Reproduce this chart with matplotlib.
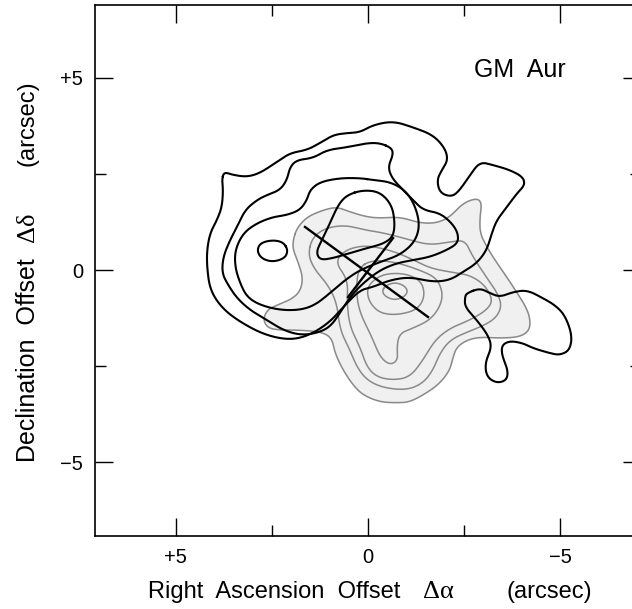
import matplotlib
matplotlib.use("Agg")
import matplotlib.pyplot as plt
import numpy as np
from matplotlib.ticker import FixedLocator

plt.rcParams['font.family'] = ['Liberation Sans', 'DejaVu Sans']

# contour outlines in arcsec (RA offset, Dec offset)
outer_black = [(3.80,2.34),(3.75,2.55),(3.51,2.47),(3.15,2.42),(2.81,2.52),(2.37,2.81),(2.03,3.04),(1.59,3.12),
               (1.25,3.30),(0.91,3.51),(0.55,3.56),(0.21,3.58),(-0.13,3.77),(-0.65,3.87),(-1.17,3.71),(-1.69,3.51),
               (-2.00,3.17),(-2.08,2.86),(-1.92,2.60),(-1.79,2.34),(-1.87,2.00),(-2.18,1.90),(-2.39,2.08),(-2.65,2.47),
               (-2.91,2.81),(-3.25,2.73),(-3.69,2.60),(-4.03,2.42),(-4.08,2.21),(-3.88,2.00),(-3.61,1.64),(-3.35,1.30),
               (-3.22,0.96),(-3.09,0.52),(-2.83,0.18),(-2.47,-0.05),(-2.13,-0.26),(-1.69,-0.31),(-1.09,-0.18),(-0.57,-0.26),
               (-0.13,-0.44),(0.21,-0.52),(0.60,-0.91),(0.99,-1.35),(1.51,-1.69),(2.03,-1.82),(2.68,-1.69),(3.33,-1.35),
               (3.80,-0.99),(4.11,-0.52),(4.19,0.08),(4.19,0.52),(4.11,0.96),(3.93,1.30),(3.80,1.64),(3.77,2.08)]
arm_black = [(-2.57,-0.60),(-2.91,-0.47),(-3.17,-0.60),(-3.43,-0.70),(-3.77,-0.57),(-4.14,-0.52),(-4.55,-0.73),
             (-4.86,-0.91),(-5.12,-1.17),(-5.31,-1.69),(-5.25,-2.08),(-4.99,-2.21),(-4.73,-2.16),(-4.29,-2.03),
             (-4.03,-1.90),(-3.69,-1.84),(-3.48,-1.95),(-3.48,-2.21),(-3.64,-2.60),(-3.61,-2.86),(-3.35,-2.94),
             (-3.09,-2.78),(-3.04,-2.42),(-3.22,-2.00),(-3.12,-1.69),(-2.83,-1.30),(-2.52,-0.96),(-2.52,-0.70)]
mid_black = [(-0.31,3.30),(-0.62,3.17),(-0.65,2.99),(-0.52,2.68),(-0.62,2.39),(-0.91,2.08),(-1.17,1.82),(-1.43,1.56),
             (-1.87,1.48),(-2.18,1.22),(-2.34,0.96),(-2.34,0.70),(-2.05,0.52),(-1.61,0.34),(-1.17,0.26),(-0.75,0.18),
             (-0.31,0.00),(0.13,-0.34),(0.47,-0.70),(0.73,-1.12),(0.99,-1.48),(1.33,-1.64),(1.77,-1.69),(2.21,-1.56),
             (2.63,-1.30),(3.07,-1.04),(3.41,-0.73),(3.64,-0.39),(3.80,-0.08),(3.77,0.34),(3.59,0.78),(3.41,1.12),
             (3.20,1.56),(2.89,1.82),(2.63,1.95),(2.29,2.08),(2.11,2.34),(2.03,2.68),(1.85,2.86),(1.43,2.91),
             (1.07,3.12),(0.55,3.19),(0.03,3.30)]
inner_black = [(-0.13,2.34),(0.21,2.39),(0.73,2.39),(1.25,2.29),(1.51,2.08),(1.59,1.82),(1.77,1.56),(2.11,1.43),
               (2.47,1.38),(2.89,1.22),(3.25,0.96),(3.46,0.52),(3.46,0.08),(3.33,-0.34),(3.15,-0.70),(2.81,-0.91),
               (2.29,-1.04),(1.77,-1.04),(1.38,-0.91),(0.99,-0.60),(0.60,-0.26),(0.21,0.00),(-0.31,0.21),(-0.83,0.39),
               (-1.22,0.73),(-1.35,1.17),(-1.22,1.69),(-0.96,2.08),(-0.57,2.29)]
peak_black_east = [(2.08,0.52),(2.21,0.73),(2.50,0.78),(2.81,0.70),(2.89,0.49),(2.76,0.29),(2.47,0.21),(2.16,0.31)]
peak_black_centre = [(0.55,1.95),(0.13,2.08),(-0.31,2.03),(-0.62,1.69),(-0.70,1.22),(-0.65,0.86),(-0.39,0.68),
                     (0.03,0.57),(0.47,0.44),(0.91,0.31),(1.25,0.26),(1.35,0.47),(1.20,0.78),(0.99,1.22),(0.78,1.69)]

gray_1 = [(1.95,0.78),(1.85,1.09),(1.59,1.38),(1.17,1.56),(0.81,1.64),(0.47,1.51),(0.03,1.38),(-0.31,1.35),
          (-0.83,1.38),(-1.35,1.22),(-1.79,1.22),(-2.13,1.38),(-2.47,1.74),(-2.83,1.87),(-2.96,1.74),(-2.91,1.38),
          (-2.91,0.96),(-3.09,0.60),(-3.30,0.26),(-3.61,-0.18),(-3.88,-0.60),(-4.08,-0.91),(-4.21,-1.22),(-4.21,-1.56),
          (-3.95,-1.74),(-3.43,-1.77),(-2.91,-1.74),(-2.57,-1.82),(-2.31,-2.00),(-2.21,-2.26),(-2.13,-2.60),(-1.87,-2.94),
          (-1.53,-3.19),(-1.09,-3.43),(-0.75,-3.45),(-0.31,-3.43),(0.13,-3.25),(0.39,-2.99),(0.65,-2.60),(0.86,-2.16),
          (0.94,-1.77),(1.20,-1.61),(1.77,-1.56),(2.29,-1.56),(2.60,-1.51),(2.73,-1.30),(2.63,-1.04),(2.37,-0.91),
          (2.03,-0.78),(1.77,-0.57),(1.69,-0.21),(1.82,0.21),(1.95,0.52)]
gray_2 = [(1.56,0.39),(1.46,0.83),(1.12,1.09),(0.60,1.17),(0.08,1.04),(-0.44,0.96),(-1.09,0.78),(-1.61,0.65),
          (-2.13,0.73),(-2.52,0.78),(-2.70,0.39),(-3.04,-0.13),(-3.35,-0.57),(-3.48,-0.91),(-3.35,-1.22),(-3.04,-1.43),
          (-2.57,-1.61),(-2.13,-1.82),(-1.87,-2.16),(-1.69,-2.60),(-1.43,-2.94),(-1.01,-3.12),(-0.39,-3.06),(0.03,-2.86),
          (0.29,-2.52),(0.47,-2.08),(0.73,-1.56),(0.81,-0.86),(1.04,-0.39),(1.38,0.00)]
gray_3 = [(0.86,0.21),(0.60,0.52),(0.08,0.65),(-0.57,0.52),(-1.09,0.31),(-1.61,0.05),(-2.13,-0.05),(-2.65,-0.13),
          (-3.04,-0.39),(-3.25,-0.78),(-3.09,-1.04),(-2.65,-1.30),(-2.13,-1.51),(-1.74,-1.82),(-1.43,-2.34),(-1.09,-2.78),
          (-0.65,-2.86),(-0.23,-2.78),(0.03,-2.52),(0.21,-2.00),(0.47,-1.48),(0.55,-0.86),(0.52,-0.26)]
gray_4 = [(0.26,0.05),(-0.10,0.26),(-0.70,0.21),(-1.35,0.00),(-1.79,-0.21),(-1.95,-0.60),(-1.87,-0.96),(-1.61,-1.30),
          (-1.17,-1.51),(-0.83,-1.64),(-0.75,-1.95),(-0.78,-2.34),(-0.57,-2.47),(-0.31,-2.26),(-0.10,-1.74),(0.21,-1.12),
          (0.31,-0.60)]
gray_5 = [(-0.05,-0.34),(-0.39,-0.10),(-0.96,-0.08),(-1.40,-0.29),(-1.48,-0.70),(-1.27,-1.04),(-0.75,-1.17),
          (-0.31,-1.12),(-0.05,-0.86),(0.03,-0.57)]
gray_6 = [(-0.36,-0.55),(-0.46,-0.40),(-0.70,-0.32),(-0.94,-0.40),(-1.04,-0.55),(-0.94,-0.70),(-0.70,-0.78),(-0.46,-0.70)]

# position-angle bars through the star
bar_long = [(1.64, 1.12), (-1.56, -1.22)]
bar_short = [(-0.65, 0.83), (0.52, -0.70)]

ticks_major = [5, 0, -5]
ticks_minor = [2.5, -2.5]
tick_labels = ['+5', '0', '\u22125']


def smooth(pts, n=4):
    # Chaikin corner cutting on a closed ring
    p = np.array(pts, dtype=float)
    for _ in range(n):
        q = np.roll(p, -1, axis=0)
        p = np.column_stack([0.75 * p + 0.25 * q, 0.25 * p + 0.75 * q]).reshape(-1, 2)
    return np.vstack([p, p[:1]])


fig = plt.figure(figsize=(6.32, 6.09), dpi=100)
ax = fig.add_axes([0.1511, 0.1199, 0.8625, 0.8727])

c = smooth(gray_1)
ax.fill(c[:, 0], c[:, 1], color='#f0f0f0', zorder=1)
for g in [gray_1, gray_2, gray_3, gray_4, gray_5, gray_6]:
    c = smooth(g)
    ax.plot(c[:, 0], c[:, 1], color='#8a8a8a', lw=1.1, zorder=2)

for b in [outer_black, arm_black, mid_black, inner_black, peak_black_east, peak_black_centre]:
    c = smooth(b)
    ax.plot(c[:, 0], c[:, 1], color='black', lw=1.5, zorder=3)

for bar in [bar_long, bar_short]:
    b = np.array(bar)
    ax.plot(b[:, 0], b[:, 1], color='black', lw=1.7, zorder=4)

ax.set_xlim(7.09, -7.09)
ax.set_ylim(-6.91, 6.90)
for a in [ax.xaxis, ax.yaxis]:
    a.set_major_locator(FixedLocator(ticks_major))
    a.set_minor_locator(FixedLocator(ticks_minor))
ax.set_xticklabels(tick_labels)
ax.set_yticklabels(tick_labels)
ax.tick_params(which='both', direction='in', top=True, right=True, width=1.0, labelsize=14.5)
ax.tick_params(which='major', length=13, pad=9)
ax.tick_params(which='minor', length=8)
for s in ax.spines.values():
    s.set_linewidth(1.2)

ax.text(-2.75, 5.2, 'GM  Aur', fontsize=18, ha='left', va='center')

# axis titles built from pieces so the Greek symbols can use a serif face
fy = 1 - 592 / 609
fig.text(148 / 632, fy, 'Right  Ascension  Offset', fontsize=17, ha='left', va='center')
fig.text(423 / 632, fy, '\u0394\u03b1', fontsize=19, ha='left', va='center', family='Liberation Serif')
fig.text(507 / 632, fy, '(arcsec)', fontsize=17, ha='left', va='center')

fx = 28 / 632
fig.text(fx, 1 - 462 / 609, 'Declination  Offset', fontsize=18, ha='center', va='bottom', rotation=90)
fig.text(fx, 1 - 242 / 609, '\u0394\u03b4', fontsize=19, ha='center', va='bottom', rotation=90,
         family='Liberation Serif')
fig.text(fx, 1 - 166 / 609, '(arcsec)', fontsize=17, ha='center', va='bottom', rotation=90)

fig.savefig('out.png', dpi=100)
